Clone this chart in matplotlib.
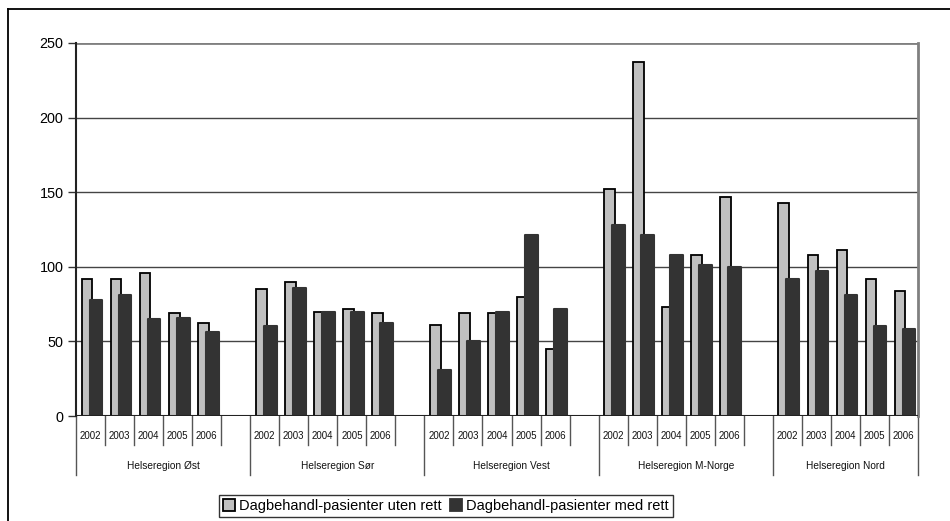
import matplotlib
matplotlib.use("Agg")
import matplotlib.pyplot as plt
from matplotlib.lines import Line2D
from matplotlib.patches import Patch
import numpy as np

plt.rcParams['font.family'] = ['Liberation Sans', 'DejaVu Sans']

regions = ["Helseregion Øst", "Helseregion Sør", "Helseregion Vest",
           "Helseregion M-Norge", "Helseregion Nord"]
years = ["2002", "2003", "2004", "2005", "2006"]
series_names = ["Dagbehandl-pasienter uten rett", "Dagbehandl-pasienter med rett"]

uten_rett = [
    [92, 92, 96, 69, 62],
    [85, 90, 70, 72, 69],
    [61, 69, 69, 80, 45],
    [152, 237, 73, 108, 147],
    [143, 108, 111, 92, 84],
]
med_rett = [
    [78, 81, 65, 66, 56],
    [60, 86, 70, 70, 62],
    [31, 50, 70, 121, 72],
    [128, 121, 108, 101, 100],
    [92, 97, 81, 60, 58],
]

W, H = 950, 521
fig = plt.figure(figsize=(W / 100, H / 100), dpi=100)
ax = fig.add_axes([76 / W, 1 - 416 / H, (918 - 76) / W, (416 - 43) / H])

pos = []
gray_vals = []
dark_vals = []
for g in range(len(regions)):
    for i in range(len(years)):
        pos.append(g * 6 + i)
        gray_vals.append(uten_rett[g][i])
        dark_vals.append(med_rett[g][i])
pos = np.array(pos)

ax.bar(pos - 0.12, gray_vals, width=0.37, color="#C0C0C0", edgecolor="black",
       linewidth=1.3, zorder=3)
ax.bar(pos + 0.19, dark_vals, width=0.44, color="#333333", edgecolor="#333333",
       linewidth=1.5, joinstyle="round", zorder=4)

ncat = len(regions) * 6 - 1
ax.set_xlim(-0.5, ncat - 0.5)
ax.set_ylim(0, 250)
ax.set_yticks([0, 50, 100, 150, 200, 250])
ax.tick_params(axis="y", direction="out", length=6, width=1, color="#333333",
               labelsize=10.4, pad=3)
ax.set_xticks([])
for t in [50, 100, 150, 200]:
    ax.axhline(t, color="#444444", linewidth=1, zorder=1)
ax.axhline(250, color="#808080", linewidth=2, zorder=1)

for s in ["top", "bottom"]:
    ax.spines[s].set_visible(False)
ax.spines["right"].set_color("#808080")
ax.spines["right"].set_linewidth(2)
ax.spines["left"].set_color("#222222")
ax.spines["left"].set_linewidth(1.5)
ax.axhline(0, color="#222222", linewidth=1.5, zorder=5)

tr = ax.get_xaxis_transform()
ah = 416 - 43
y_year = -(436 - 416) / ah
y_group = -(466 - 416) / ah
y_short = -(445 - 416) / ah
y_long = -(475 - 416) / ah

group_bounds = [-0.5] + [g * 6 + 5.5 for g in range(len(regions) - 1)] + [ncat - 0.5]
for k in range(ncat + 1):
    xb = k - 0.5
    long = any(abs(xb - b) < 1e-6 for b in group_bounds)
    ax.add_line(Line2D([xb, xb], [0, y_long if long else y_short], transform=tr,
                       color="#555555", linewidth=1, clip_on=False))

for p, g_i in zip(pos, range(len(pos))):
    ax.text(p, y_year, years[g_i % 5], transform=tr, ha="center", va="center",
            fontsize=7, color="#111111")
for g in range(len(regions)):
    lo = group_bounds[g]
    hi = group_bounds[g + 1]
    ax.text((lo + hi) / 2, y_group, regions[g], transform=tr, ha="center",
            va="center", fontsize=7.3, color="#111111")

handles = [Patch(facecolor="#C0C0C0", edgecolor="black", linewidth=1.3),
           Patch(facecolor="#333333", edgecolor="#333333", linewidth=1.3)]
leg = fig.legend(handles, series_names, loc="center",
                 bbox_to_anchor=(446 / W, 1 - 506 / H), ncol=2, fontsize=10.5,
                 frameon=True, fancybox=False, handlelength=0.8, handleheight=0.8,
                 handletextpad=0.3, columnspacing=0.6, borderpad=0.3)
leg.get_frame().set_edgecolor("black")
leg.get_frame().set_linewidth(1)

fig.add_artist(Line2D([8 / W, 8 / W], [0, 1 - 9 / H], transform=fig.transFigure,
                      color="black", linewidth=1.3))
fig.add_artist(Line2D([8 / W, 1], [1 - 9 / H, 1 - 9 / H], transform=fig.transFigure,
                      color="black", linewidth=1.3))

fig.savefig("out.png", dpi=100, facecolor="white")
